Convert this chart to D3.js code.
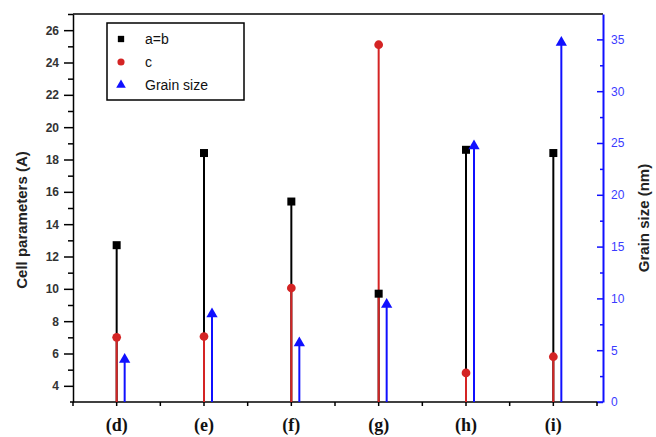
<!DOCTYPE html>
<html>
<head>
<meta charset="utf-8">
<script src="https://cdn.jsdelivr.net/npm/d3@7"></script>
<style>
  body { margin: 0; background: #fff; }
  svg { display: block; font-family: "Liberation Sans", Arial, sans-serif; }
</style>
</head>
<body>
<div id="chart"></div>
<script>
// sample labels and values
var categories = ["(d)", "(e)", "(f)", "(g)", "(h)", "(i)"];
var cellAB = [12.7, 18.4, 15.4, 9.7, 18.6, 18.4];   // a=b (A)
var cellC = [7.0, 7.05, 10.05, 25.1, 4.8, 5.8];     // c (A)
var grainSize = [4.1, 8.5, 5.7, 9.4, 24.7, 34.7];   // grain size (nm)
var leftTicks = [4, 6, 8, 10, 12, 14, 16, 18, 20, 22, 24, 26];
var rightTicks = [0, 5, 10, 15, 20, 25, 30, 35];

var W = 656, H = 437;
var plotL = 73, plotR = 603, plotT = 14, plotB = 402;
var axisEnd = 597;

var svg = d3.select("#chart").append("svg")
    .attr("width", W)
    .attr("height", H);

var x = d3.scaleBand().domain(categories).range([plotL, axisEnd]).padding(0);
var y = d3.scaleLinear().domain([3, 27]).range([plotB, plotT]);
var y2 = d3.scaleLinear().domain([0, 37.45]).range([plotB, plotT]);

var red = "#d42424", blue = "#1010ff";
var blueOff = 8;

// top frame line
svg.append("line")
  .attr("x1", plotL).attr("x2", plotR)
  .attr("y1", plotT).attr("y2", plotT)
  .attr("stroke", "#000").attr("stroke-width", 1.5);

// left axis, minor then major
svg.append("g")
  .attr("transform", "translate(" + plotL + ",0)")
  .call(d3.axisLeft(y).tickValues(d3.range(5, 28, 2)).tickSize(5).tickFormat(""))
  .call(function(g) { g.select(".domain").remove(); })
  .selectAll("line").attr("stroke-width", 1.5);

var gl = svg.append("g")
  .attr("transform", "translate(" + plotL + ",0)")
  .call(d3.axisLeft(y).tickValues(leftTicks).tickSize(9).tickPadding(5).tickSizeOuter(0));
gl.select(".domain").attr("stroke-width", 1.5);
gl.selectAll("line").attr("stroke-width", 1.5);
gl.selectAll("text")
  .style("font-family", "'Liberation Sans', Arial, sans-serif")
  .style("font-size", "12px")
  .style("font-weight", "bold")
  .attr("fill", "#333");

// right axis (grain size)
svg.append("g")
  .attr("transform", "translate(" + plotR + ",0)")
  .call(d3.axisRight(y2).tickValues(d3.range(2.5, 37.5, 5)).tickSize(-3).tickFormat(""))
  .call(function(g) { g.select(".domain").remove(); })
  .selectAll("line").attr("stroke", blue).attr("stroke-width", 1.5);

var gr = svg.append("g")
  .attr("transform", "translate(" + plotR + ",0)")
  .call(d3.axisRight(y2).tickValues(rightTicks).tickSize(-6).tickPadding(8).tickSizeOuter(0));
gr.select(".domain").attr("stroke", blue).attr("stroke-width", 2);
gr.selectAll("line").attr("stroke", blue).attr("stroke-width", 1.5);
gr.selectAll("text")
  .style("font-family", "'Liberation Sans', Arial, sans-serif")
  .style("font-size", "12px")
  .attr("fill", "#3b3bff");

svg.append("line")
  .attr("x1", axisEnd).attr("x2", plotR)
  .attr("y1", plotB).attr("y2", plotB)
  .attr("stroke", blue).attr("stroke-width", 1.5);

// bottom axis: ticks at band centers and edges
var edgeTicks = d3.range(categories.length + 1).map(function(i) { return plotL + i * x.step(); });
var centerTicks = categories.map(function(c) { return x(c) + x.bandwidth() / 2; });
var gb = svg.append("g").attr("transform", "translate(0," + plotB + ")");
gb.append("line")
  .attr("x1", plotL - 3).attr("x2", axisEnd)
  .attr("stroke", "#000").attr("stroke-width", 1.5);
gb.selectAll(".tk")
  .data(edgeTicks.concat(centerTicks))
  .enter().append("line")
  .attr("x1", function(d) { return d; }).attr("x2", function(d) { return d; })
  .attr("y1", 0).attr("y2", 4)
  .attr("stroke", "#000").attr("stroke-width", 1.5);
gb.selectAll(".lbl")
  .data(categories)
  .enter().append("text")
  .attr("x", function(d) { return x(d) + x.bandwidth() / 2; })
  .attr("y", 29)
  .attr("text-anchor", "middle")
  .style("font-family", "'Liberation Serif', 'Times New Roman', serif")
  .style("font-weight", "bold")
  .style("font-size", "18px")
  .attr("fill", "#111")
  .text(function(d) { return d; });

// axis titles
svg.append("text")
  .attr("transform", "translate(27,220) rotate(-90)")
  .attr("text-anchor", "middle")
  .style("font-size", "15px")
  .style("font-weight", "bold")
  .attr("fill", "#222")
  .text("Cell parameters (A)");

svg.append("text")
  .attr("transform", "translate(649,218) rotate(-90)")
  .attr("text-anchor", "middle")
  .style("font-size", "15px")
  .style("font-weight", "bold")
  .attr("fill", "#222")
  .text("Grain size (nm)");

// drop lines
var cx = function(i) { return x(categories[i]) + x.bandwidth() / 2; };

svg.selectAll(".stemAB").data(cellAB).enter().append("line")
  .attr("x1", function(d, i) { return cx(i); }).attr("x2", function(d, i) { return cx(i); })
  .attr("y1", function(d) { return y(d); }).attr("y2", plotB)
  .attr("stroke", "#000").attr("stroke-width", 2);

svg.selectAll(".stemC").data(cellC).enter().append("line")
  .attr("x1", function(d, i) { return cx(i); }).attr("x2", function(d, i) { return cx(i); })
  .attr("y1", function(d) { return y(d); }).attr("y2", plotB)
  .attr("stroke", red).attr("stroke-width", 2);

svg.selectAll(".stemG").data(grainSize).enter().append("line")
  .attr("x1", function(d, i) { return cx(i) + blueOff; }).attr("x2", function(d, i) { return cx(i) + blueOff; })
  .attr("y1", function(d) { return y2(d); }).attr("y2", plotB)
  .attr("stroke", blue).attr("stroke-width", 2);

// markers
var sq = d3.symbol().type(d3.symbolSquare).size(64);
var ci = d3.symbol().type(d3.symbolCircle).size(60);
var tr = d3.symbol().type(d3.symbolTriangle).size(55);

svg.selectAll(".mAB").data(cellAB).enter().append("path")
  .attr("d", sq)
  .attr("transform", function(d, i) { return "translate(" + cx(i) + "," + y(d) + ")"; })
  .attr("fill", "#000");

svg.selectAll(".mC").data(cellC).enter().append("path")
  .attr("d", ci)
  .attr("transform", function(d, i) { return "translate(" + cx(i) + "," + y(d) + ")"; })
  .attr("fill", red);

svg.selectAll(".mG").data(grainSize).enter().append("path")
  .attr("d", tr)
  .attr("transform", function(d, i) { return "translate(" + (cx(i) + blueOff) + "," + y2(d) + ")"; })
  .attr("fill", blue);

// legend
var lg = svg.append("g");
lg.append("rect")
  .attr("x", 107).attr("y", 23)
  .attr("width", 137).attr("height", 77)
  .attr("fill", "#fff").attr("stroke", "#000").attr("stroke-width", 1.5);

var legendItems = [
  { label: "a=b", sym: d3.symbol().type(d3.symbolSquare).size(40), color: "#000" },
  { label: "c", sym: d3.symbol().type(d3.symbolCircle).size(40), color: red },
  { label: "Grain size", sym: d3.symbol().type(d3.symbolTriangle).size(40), color: blue }
];
legendItems.forEach(function(it, i) {
  var yy = 39 + i * 23;
  lg.append("path")
    .attr("d", it.sym)
    .attr("transform", "translate(121," + yy + ")")
    .attr("fill", it.color);
  lg.append("text")
    .attr("x", 145).attr("y", yy + 5)
    .style("font-size", "14px")
    .attr("fill", "#111")
    .text(it.label);
});
</script>
</body>
</html>
